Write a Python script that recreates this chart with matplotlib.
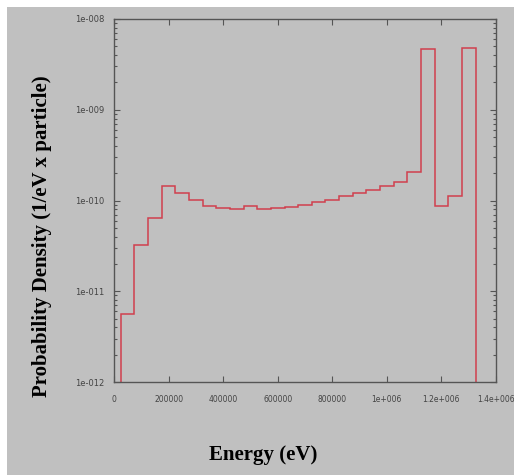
import numpy as np
import matplotlib.pyplot as plt
from matplotlib.patches import Rectangle
from matplotlib.ticker import LogLocator, NullFormatter

# --------------------------
# Data
# --------------------------
bin_edges = np.arange(25000, 1325001, 50000)   # 26 bins, 50 keV wide
density = [5.6e-12, 3.2e-11, 6.4e-11, 1.46e-10, 1.22e-10, 1.01e-10,
           8.8e-11, 8.3e-11, 8.05e-11, 8.6e-11, 8.05e-11, 8.2e-11,
           8.55e-11, 9.0e-11, 9.6e-11, 1.02e-10, 1.13e-10, 1.2e-10,
           1.31e-10, 1.46e-10, 1.58e-10, 2.06e-10, 4.63e-09, 8.8e-11,
           1.13e-10, 4.75e-09]

x_ticks = [0, 200000, 400000, 600000, 800000, 1000000, 1200000, 1400000]
x_labels = ["0", "200000", "400000", "600000", "800000",
            "1e+006", "1.2e+006", "1.4e+006"]
y_ticks = [1e-12, 1e-11, 1e-10, 1e-9, 1e-8]
y_labels = ["1e-012", "1e-011", "1e-010", "1e-009", "1e-008"]

bg = "#c0c0c0"
frame = "#555555"

fig = plt.figure(figsize=(5.14, 4.75), dpi=100, facecolor="white")
# gray panel with a thin white margin on the top and left
fig.add_artist(Rectangle((7 / 514, 0), 1, 1 - 7 / 475, transform=fig.transFigure,
                         facecolor=bg, edgecolor="none", zorder=0))

ax = fig.add_axes([114 / 514, 1 - 382 / 475, (496 - 114) / 514, (382 - 19) / 475])
ax.set_facecolor(bg)

ax.stairs(density, bin_edges, baseline=1e-13, color="#d0404e", linewidth=1.1)

ax.set_yscale("log")
ax.set_xlim(0, 1400000)
ax.set_ylim(1e-12, 1e-8)

ax.set_xticks(x_ticks, x_labels)
ax.set_yticks(y_ticks, y_labels)
ax.yaxis.set_minor_locator(LogLocator(base=10, subs=np.arange(2, 10)))
ax.yaxis.set_minor_formatter(NullFormatter())

ax.tick_params(which="both", direction="in", top=True, right=True,
               colors=frame, labelcolor="#444444", labelsize=6, width=0.8)
ax.tick_params(which="major", length=4, pad=7)
ax.tick_params(which="minor", length=2)
ax.tick_params(axis="x", pad=9, labelsize=5.5)
for s in ax.spines.values():
    s.set_color(frame)
    s.set_linewidth(1.0)

fig.text(263 / 514, 1 - 455 / 475, "Energy (eV)", ha="center", va="center",
         fontsize=15, fontweight="bold", family="Liberation Serif")
fig.text(42 / 514, 1 - 236 / 475, "Probability Density (1/eV x particle)",
         ha="center", va="center", rotation=90,
         fontsize=15, fontweight="bold", family="Liberation Serif")

fig.savefig("out.png", dpi=100, facecolor=fig.get_facecolor())
